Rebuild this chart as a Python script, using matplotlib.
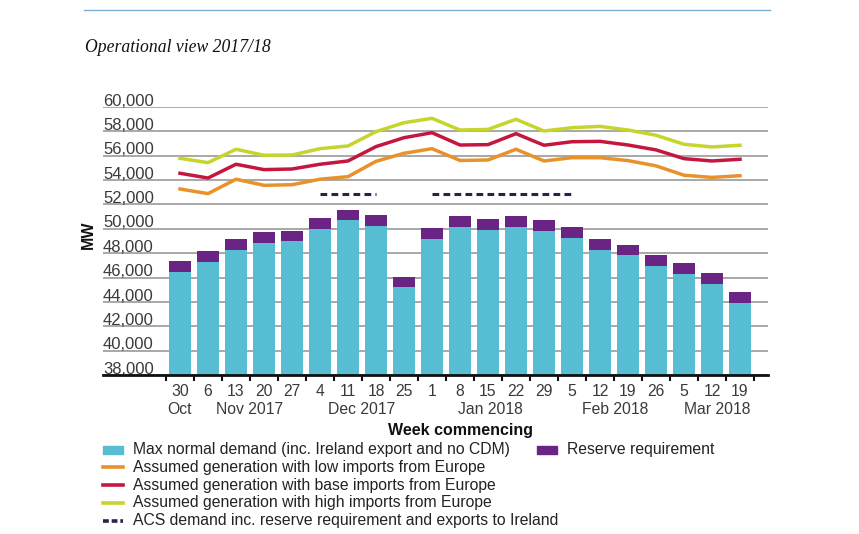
import matplotlib
matplotlib.use('Agg')
import matplotlib.pyplot as plt
import numpy as np
from matplotlib.transforms import blended_transform_factory
from matplotlib.patches import Rectangle
from matplotlib.lines import Line2D

plt.rcParams['font.family'] = ['Liberation Sans', 'DejaVu Sans']

# Datos (MW)
days = ['30', '6', '13', '20', '27', '4', '11', '18', '25', '1', '8', '15', '22', '29',
        '5', '12', '19', '26', '5', '12', '19']
months = ['Oct', 'Nov 2017', 'Dec 2017', 'Jan 2018', 'Feb 2018', 'Mar 2018']
month_pos = [0, 2.5, 6.5, 11.1, 15.55, 19.2]

demand = [46480, 47250, 48240, 48840, 49000, 50010, 50710, 50260, 45200, 49170, 50180,
          49880, 50180, 49800, 49270, 48260, 47830, 46970, 46270, 45500, 43890]
reserve = [880, 900, 900, 900, 860, 860, 850, 900, 870, 900, 870,
           900, 870, 900, 880, 880, 870, 910, 900, 870, 900]
gen_low = [53270, 52890, 54070, 53570, 53620, 54070, 54280, 55540, 56200, 56580, 55610,
           55650, 56530, 55570, 55840, 55840, 55600, 55170, 54400, 54220, 54360]
gen_base = [54560, 54170, 55300, 54860, 54910, 55300, 55570, 56750, 57480, 57890, 56880,
            56910, 57810, 56860, 57150, 57180, 56880, 56480, 55760, 55570, 55710]
gen_high = [55790, 55430, 56530, 56040, 56060, 56580, 56800, 57980, 58710, 59070, 58110,
            58160, 58990, 58030, 58300, 58410, 58110, 57680, 56940, 56720, 56860]
acs = [None, None, None, None, None, 52850, 52850, 52850, None, 52850, 52850,
       52850, 52850, 52850, 52850, None, None, None, None, None, None]
yticks = [38000, 40000, 42000, 44000, 46000, 48000, 50000, 52000, 54000, 56000, 58000, 60000]

c_cyan = '#56bdd2'
c_purple = '#6a2484'
c_low = '#e8922b'
c_base = '#c4173f'
c_high = '#c6d52c'
c_acs = '#24244a'
c_text = '#3a3a3a'

W, H = 859, 534
fig = plt.figure(figsize=(W / 100, H / 100), dpi=100)
ax = fig.add_axes([103 / W, 1 - 375 / H, (768 - 103) / W, (375 - 107) / H])

x = np.arange(len(days))
ax.bar(x, demand, width=0.8, color=c_cyan, zorder=2)
ax.bar(x, reserve, bottom=demand, width=0.8, color=c_purple, zorder=2)

acs_arr = np.array([np.nan if v is None else v for v in acs], dtype=float)
ax.plot(x, gen_low, color=c_low, lw=2.5, zorder=3, solid_joinstyle='round')
ax.plot(x, gen_base, color=c_base, lw=2.5, zorder=3, solid_joinstyle='round')
ax.plot(x, gen_high, color=c_high, lw=2.5, zorder=3, solid_joinstyle='round')
ax.plot(x, acs_arr, color=c_acs, lw=2.2, dashes=(2.2, 1.4), zorder=3)

ax.set_xlim(-2.75, 21.0)
ax.set_ylim(38000, 60000)

# rejilla y etiquetas del eje y
ax.set_yticks(yticks)
ax.yaxis.grid(True, color='#999999', lw=1.2, zorder=0)
ax.tick_params(axis='y', length=0, labelleft=False)
for v in yticks:
    ax.text(0, v + 110, f'{v:,}', transform=blended_transform_factory(ax.transAxes, ax.transData),
            ha='left', va='baseline', fontsize=12, color=c_text, clip_on=False)

for s in ['top', 'right', 'left']:
    ax.spines[s].set_visible(False)
ax.spines['bottom'].set_linewidth(2)
ax.spines['bottom'].set_color('#111111')
ax.spines['bottom'].set_zorder(4)

ax.set_xticks(np.arange(len(days) + 1) - 0.5)
ax.set_xticklabels([])
ax.tick_params(axis='x', length=4.5, width=1.5, color='#111111', direction='out')

tr = blended_transform_factory(ax.transData, fig.transFigure)
for i, d in enumerate(days):
    ax.text(i, 1 - 392 / H, d, transform=tr, ha='center', va='center', fontsize=11.3, color=c_text)
for p, m in zip(month_pos, months):
    ax.text(p, 1 - 409 / H, m, transform=tr, ha='center', va='center', fontsize=11.3, color=c_text)

fig.text(461 / W, 1 - 430 / H, 'Week commencing', ha='center', va='center',
         fontsize=11.5, fontweight='bold', color='#111111')
fig.text(88 / W, 1 - 235 / H, 'MW', ha='center', va='center', rotation=90,
         fontsize=11.5, fontweight='bold', color='#111111')

# cabecera
fig.add_artist(Line2D([84 / W, 770 / W], [1 - 10 / H, 1 - 10 / H], transform=fig.transFigure,
                      color='#7aaed2', lw=1))
fig.text(85 / W, 1 - 48 / H, 'Operational view 2017/18', ha='left', va='center',
         fontsize=12.7, style='italic', family='Liberation Serif', color='#111111')

# leyenda manual
def patch_entry(x0, y, color, label):
    fig.add_artist(Rectangle((x0 / W, 1 - (y + 4) / H), 20 / W, 8 / H, transform=fig.transFigure,
                             color=color))
    fig.text((x0 + 30) / W, 1 - y / H, label, ha='left', va='center', fontsize=11.3, color='#222222')

def line_entry(x0, y, color, label, dashed=False):
    kw = dict(dashes=(1.6, 0.8)) if dashed else {}
    fig.add_artist(Line2D([x0 / W, (x0 + 20) / W], [1 - y / H, 1 - y / H], transform=fig.transFigure,
                          color=color, lw=2.6, **kw))
    fig.text((x0 + 30) / W, 1 - y / H, label, ha='left', va='center', fontsize=11.3, color='#222222')

rows = [449.5, 467.3, 485.1, 502.9, 520.7]
patch_entry(103, rows[0], c_cyan, 'Max normal demand (inc. Ireland export and no CDM)')
patch_entry(537, rows[0], c_purple, 'Reserve requirement')
line_entry(103, rows[1], c_low, 'Assumed generation with low imports from Europe')
line_entry(103, rows[2], c_base, 'Assumed generation with base imports from Europe')
line_entry(103, rows[3], c_high, 'Assumed generation with high imports from Europe')
line_entry(103, rows[4], c_acs, 'ACS demand inc. reserve requirement and exports to Ireland', dashed=True)

fig.savefig('out.png', dpi=100)
